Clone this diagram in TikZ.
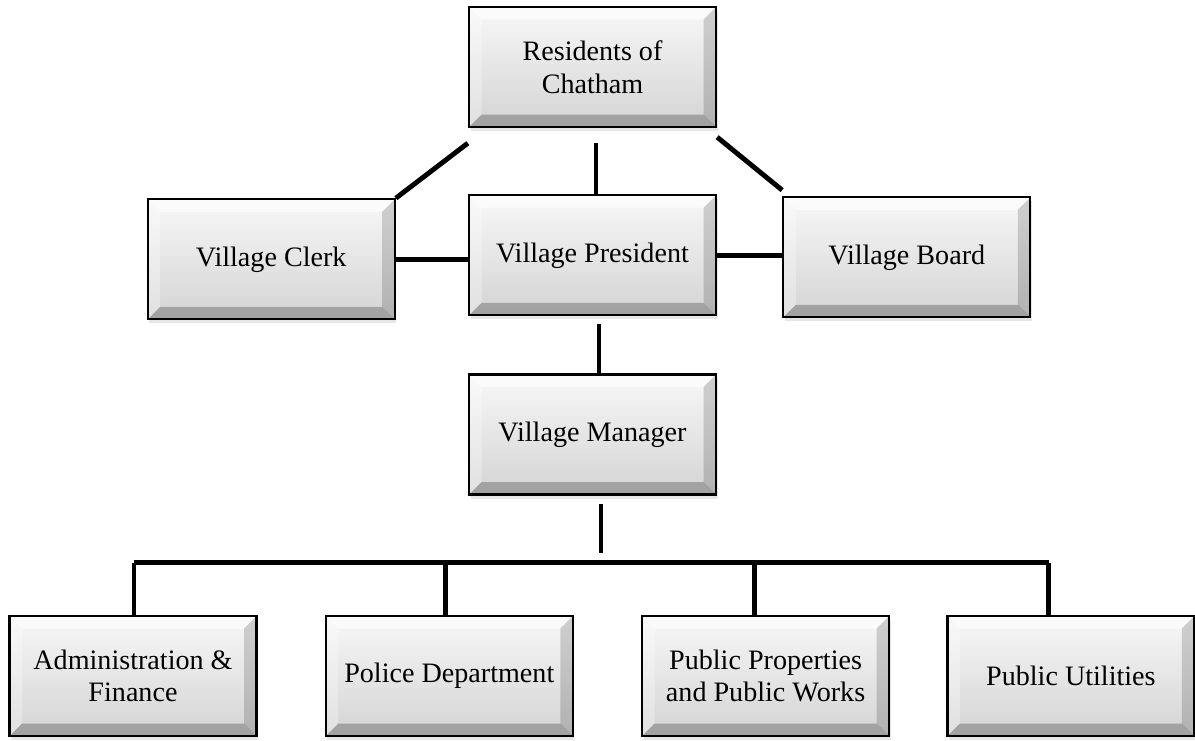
\documentclass[tikz,border=0pt]{standalone}
\usepackage{fontspec}
\setmainfont{Liberation Serif}
\usetikzlibrary{positioning, calc, shadows}

\tikzset{
  bevel/.style={draw=black, line width=1.3pt, rectangle, minimum width=4.94cm, minimum height=2.4cm,
    align=center, font=\fontsize{16}{18.5}\selectfont, top color=black!3, bottom color=black!17,
    drop shadow={opacity=.2, shadow xshift=.03cm, shadow yshift=-.08cm},
    path picture={
      \coordinate (bvsw) at (path picture bounding box.south west);
      \coordinate (bvnw) at (path picture bounding box.north west);
      \coordinate (bvne) at (path picture bounding box.north east);
      \coordinate (bvse) at (path picture bounding box.south east);
      \fill[white, opacity=.6] (bvnw) -- (bvne) -- ([shift={(-.25,-.25)}]bvne) -- ([shift={(.25,-.25)}]bvnw) -- cycle;
      \fill[white, opacity=.3] (bvnw) -- (bvsw) -- ([shift={(.25,.25)}]bvsw) -- ([shift={(.25,-.25)}]bvnw) -- cycle;
      \fill[black, opacity=.16] (bvne) -- (bvse) -- ([shift={(-.25,.25)}]bvse) -- ([shift={(-.25,-.25)}]bvne) -- cycle;
      \fill[black, opacity=.24] (bvsw) -- (bvse) -- ([shift={(-.25,.25)}]bvse) -- ([shift={(.25,.25)}]bvsw) -- cycle;
    }},
  link/.style={line width=2.8pt}
}

\begin{document}
\begin{tikzpicture}
  \useasboundingbox (0,0) rectangle (23.9,-14.8);
  % top of the chart
  \node (res) [bevel] at (11.85,-1.34) {Residents of\\Chatham};
  \node (pres) [bevel, below=1.32cm of res] {Village President};
  \node (clerk) [bevel, left=1.44cm of pres, yshift=-.08cm] {Village Clerk};
  \node (board) [bevel, right=1.3cm of pres, yshift=-.04cm] {Village Board};
  \node (mgr) [bevel, below=1.14cm of pres] {Village Manager};
  % departments
  \node (admin) [bevel] at (2.66,-13.52) {Administration \&\\Finance};
  \node (police) [bevel, right=1.34cm of admin] {Police Department};
  \node (works) [bevel, right=1.34cm of police] {Public Properties\\and Public Works};
  \node (util) [bevel, right=1.12cm of works] {Public Utilities};
  \coordinate (bus) at ($(mgr.south)+(0,-1.34)$);

  \draw [link] ($(res.south west)+(0,-.3)$) -- (clerk.north east);
  \draw [link] ($(res.south)+(.07,-.3)$) -- ($(pres.north)+(.07,0)$);
  \draw [link] ($(res.south east)+(0,-.18)$) -- ($(board.north west)+(0,.12)$);
  \draw [link] (clerk.east) -- (clerk.east -| pres.west);
  \draw [link] (pres.east) -- (pres.east -| board.west);
  \draw [link] ($(pres.south)+(.13,-.16)$) -- ($(mgr.north)+(.13,0)$);
  \draw [link] ($(mgr.south)+(.17,-.16)$) -- ($(mgr.south)+(.17,-1.14)$);
  \draw [link] ($(bus -| admin.north)+(.02,0)$) -- ($(bus -| util.north)+(-.44,0)$);
  \draw [link] ($(bus -| admin.north)+(.02,0)$) -- ($(admin.north)+(.02,0)$);
  \draw [link] ($(bus -| police.north)+(-.08,0)$) -- ($(police.north)+(-.08,0)$);
  \draw [link] ($(bus -| works.north)+(-.22,0)$) -- ($(works.north)+(-.22,0)$);
  \draw [link] ($(bus -| util.north)+(-.44,0)$) -- ($(util.north)+(-.44,0)$);
\end{tikzpicture}
\end{document}
